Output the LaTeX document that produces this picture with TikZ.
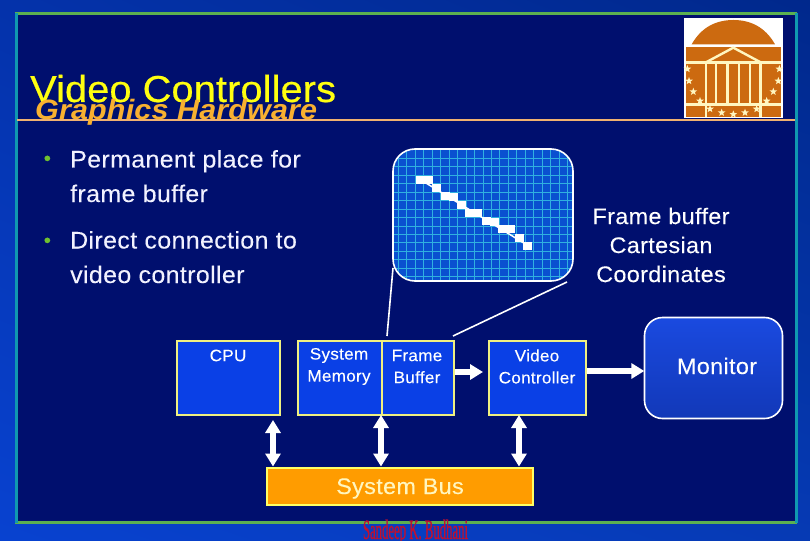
\documentclass[tikz,border=0pt]{standalone}
\usepackage{fontspec}
\setmainfont[LetterSpace=1.5,FakeStretch=1.04,FakeBold=0.1]{Liberation Sans}
\newfontfamily\sigfont[FakeStretch=0.455,FakeBold=0.6]{Liberation Serif}
\newfontfamily\titlefont[FakeBold=0.5,LetterSpace=0.3,FakeStretch=1.06]{Liberation Sans}
\newfontfamily\subfont[LetterSpace=0.5,FakeStretch=1.09]{Liberation Sans}
\usetikzlibrary{arrows.meta,shapes.geometric,shadings}
\definecolor{inner}{HTML}{000F6E}
\definecolor{framegreen}{HTML}{5CB050}
\definecolor{frameteal}{HTML}{1098B0}
\definecolor{rulecol}{HTML}{F0B070}
\definecolor{titley}{HTML}{FFFF10}
\definecolor{subcol}{HTML}{F8B030}
\definecolor{boxfill}{HTML}{0A40E6}
\definecolor{boxline}{HTML}{F0F080}
\definecolor{panelfill}{HTML}{0A50D0}
\definecolor{gridcol}{HTML}{30B0E0}
\definecolor{busfill}{HTML}{FF9C00}
\definecolor{busline}{HTML}{FFFF64}
\definecolor{buttext}{HTML}{FFF6C0}
\definecolor{logoor}{HTML}{CC6A10}
\definecolor{bulletcol}{HTML}{70C030}
\definecolor{sigcol}{HTML}{C01030}
\definecolor{bgll}{HTML}{0842D0}
\definecolor{bgul}{HTML}{0432AA}
\definecolor{bgur}{HTML}{00288C}
\definecolor{bglr}{HTML}{063AB4}
\definecolor{montop}{HTML}{1A4AE0}
\definecolor{monbot}{HTML}{1238B8}
\tikzset{
  blockbox/.style={draw=boxline,fill=boxfill,line width=2pt,inner sep=0pt,anchor=north west},
  blocktext/.style={text=white,align=center,inner sep=0pt,font=\fontsize{16.5}{22}\selectfont},
  bodytext/.style={text=white!95!blue,anchor=base west,inner sep=0pt,font=\fontsize{24}{24}\selectfont},
  bullettext/.style={anchor=base west,inner sep=0pt,text=bulletcol,font=\fontsize{20}{20}\selectfont},
  bigarrow/.style={draw=white,line width=6.5pt,-{Triangle[width=15pt,length=13pt]}},
  dblarrow/.style={draw=white,line width=6.5pt,{Triangle[width=15pt,length=13pt]}-{Triangle[width=15pt,length=13pt]}},
  thinlink/.style={draw=white,line width=1.6pt},
  logostar/.style={star,star points=5,star point ratio=2.4,fill=buttext,inner sep=0pt,minimum size=8pt},
  logoline/.style={draw=buttext,line width=2.4pt},
}
\begin{document}
\begin{tikzpicture}[x=1pt,y=-1pt]
\useasboundingbox (0,0) rectangle (810,540);
\shade[lower left=bgll,upper left=bgul,upper right=bgur,lower right=bglr] (0,0) rectangle (810,540);
% frame
\fill[inner] (16,14) rectangle (796,522);
\draw[framegreen,line width=3pt] (15,14) -- (797,14);
\draw[framegreen,line width=3pt] (15,522) -- (797,522);
\draw[frameteal,line width=3pt] (16,13) -- (16,523);
\draw[frameteal,line width=3pt] (796,13) -- (796,523);
% rule
\draw[rulecol,line width=2.4pt] (17,120) -- (795,120);
% titles
\node[anchor=base west,inner sep=0pt,text=titley,font=\fontsize{37.5}{37.5}\selectfont\titlefont] (title) at (30,102) {Video Controllers};
\node[anchor=base west,inner sep=0pt,text=subcol,font=\fontsize{28}{28}\selectfont\subfont\bfseries\itshape] (subtitle) at (35,120) {Graphics Hardware};
% bullets
\node[bullettext] (b1) at (43.5,165) {•};
\node[bodytext] (t1) at (70,167.5) {Permanent place for};
\node[bodytext] (t2) at (70,202) {frame buffer};
\node[bullettext] (b2) at (43.5,247) {•};
\node[bodytext] (t3) at (70,248.5) {Direct connection to};
\node[bodytext] (t4) at (70,283) {video controller};
% panel
\fill[panelfill,rounded corners=22pt] (393,149) rectangle (573,281);
\begin{scope}
\clip[rounded corners=22pt] (393,149) rectangle (573,281);
\foreach \i in {0,...,21} \draw[gridcol,line width=1pt] ({398.5+8.45*\i},149) -- ({398.5+8.45*\i},281);
\foreach \i in {0,...,15} \draw[gridcol,line width=1pt] (393,{150+8.45*\i}) -- (573,{150+8.45*\i});
\end{scope}
\draw[white,line width=1.6pt,rounded corners=22pt] (393,149) rectangle (573,281);
\foreach \zx/\zy in {120/120,145/120,170/143,195/167,220/170,245/195,267/218,292/218,318/243,343/245,367/267,390/268,417/293,443/317}
  \fill[white] ({380+\zx/3-4.5},{140+\zy/3-4}) rectangle ({380+\zx/3+4.5},{140+\zy/3+4});
\draw[white,line width=1.5pt] (421,180) -- (527,245);
% logo
\begin{scope}[shift={(670,5)},x=0.3333pt,y=-0.3333pt]
\fill[white] (42,38) rectangle (338,338);
\fill[logoor] (65,118) .. controls (95,65) and (140,45) .. (190,45) .. controls (240,45) and (285,65) .. (315,118) -- cycle;
\fill[logoor] (48,127) rectangle (332,335);
\draw[logoline] (48,172) -- (332,172);
\draw[logoline] (108,172) -- (190,128) -- (272,172);
\foreach \x in {108,138,172,207,240,272} \draw[logoline] (\x,172) -- (\x,296);
\draw[logoline] (108,296) -- (108,335);
\draw[logoline] (272,296) -- (272,335);
\draw[logoline] (48,298) -- (332,298);
\foreach \x/\y in {52/192,57/228,70/260,90/288,120/312,155/323,190/328,225/323,260/312,290/288,310/260,325/228,328/192}
  \node[logostar] at (\x,\y) {};
\end{scope}
% caption
\node[text=white,align=center,inner sep=0pt,font=\fontsize{22.5}{29}\selectfont] (cap) at (661,245) {Frame buffer\\Cartesian\\Coordinates};
% blocks
\node[blockbox,minimum width=103pt,minimum height=74pt] (cpu) at (176,339.5) {};
\node[blockbox,minimum width=84pt,minimum height=74pt] (mem) at (297,339.5) {};
\node[blockbox,minimum width=72pt,minimum height=74pt] (fb) at (381,339.5) {};
\node[blockbox,minimum width=97pt,minimum height=74pt] (vc) at (488,339.5) {};
\node[blocktext] (cput) at (228,355.5) {CPU};
\node[blocktext] (memt) at (339,366.5) {System\\Memory};
\node[blocktext] (fbt) at (417,366.5) {Frame\\Buffer};
\node[blocktext] (vct) at (537,366.5) {Video\\Controller};
% monitor
\shade[top color=montop,bottom color=monbot,rounded corners=18pt] (644.5,317.5) rectangle (782.5,418.5);
\draw[white,line width=1.6pt,rounded corners=18pt] (644.5,317.5) rectangle (782.5,418.5);
\node[inner sep=0pt,minimum width=138pt,minimum height=101pt] (mon) at (713.5,368) {};
\node[inner sep=0pt,text=white,font=\fontsize{22.5}{22.5}\selectfont,anchor=base] (mont) at (717,374) {Monitor};
% bus
\node[draw=busline,fill=busfill,line width=2pt,inner sep=0pt,minimum width=266pt,minimum height=37pt,anchor=north west] (bus) at (266,466.5) {};
\node[inner sep=0pt,text=buttext,font=\fontsize{22.5}{22.5}\selectfont,anchor=base] (bust) at (400,494) {System Bus};
% connectors
\coordinate (c1) at (273,420);
\coordinate (c2) at (381,415);
\coordinate (c3) at (519,415);
\coordinate (y1) at (483,372);
\coordinate (y2) at (0,371);
\draw[dblarrow] (c1) -- (bus.north -| c1);
\draw[dblarrow] (c2) -- (bus.north -| c2);
\draw[dblarrow] (c3) -- (bus.north -| c3);
\draw[bigarrow] (fb.east |- y1) -- (y1);
\draw[bigarrow] (vc.east |- y2) -- (mon.west |- y2);
\coordinate (pl) at (393,268);
\coordinate (pm) at (387,336);
\coordinate (pr) at (567,282);
\coordinate (pf) at (453,336);
\draw[thinlink] (pl) -- (pm);
\draw[thinlink] (pr) -- (pf);
% signature
\node[anchor=base,inner sep=0pt,text=sigcol,font=\fontsize{28}{28}\selectfont\sigfont] (sig) at (415.5,539) {Sandeep K. Budhani};
\end{tikzpicture}
\end{document}
